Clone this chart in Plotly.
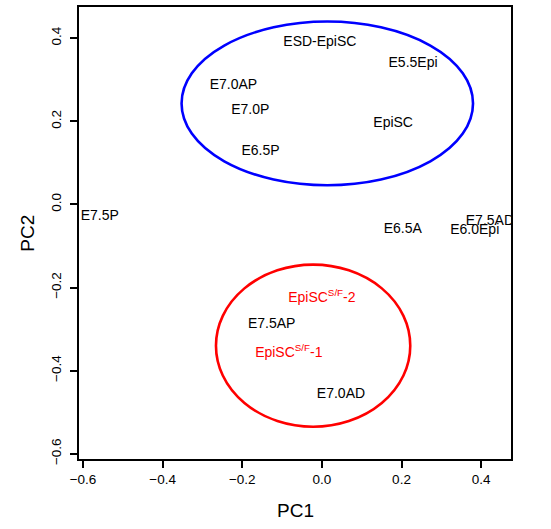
import plotly.graph_objects as go

# Sample labels and PCA coordinates
labels = ["ESD-EpiSC", "E5.5Epi", "E7.0AP", "E7.0P", "EpiSC", "E6.5P",
          "E7.5P", "E6.5A", "E6.0Epi", "E7.5AD",
          "EpiSC<sup>S/F</sup>-2", "E7.5AP", "EpiSC<sup>S/F</sup>-1", "E7.0AD"]
pc1 = [-0.005, 0.229, -0.222, -0.180, 0.179, -0.154,
       -0.558, 0.203, 0.384, 0.422,
       0.000, -0.126, -0.083, 0.048]
pc2 = [0.390, 0.338, 0.285, 0.227, 0.194, 0.127,
       -0.029, -0.061, -0.062, -0.041,
       -0.226, -0.288, -0.358, -0.457]
colors = ["black"] * 10 + ["#FF0000", "black", "#FF0000", "black"]

# Cluster ellipses: center x, center y, radius x, radius y
ell_cx = [0.0136, -0.022]
ell_cy = [0.243, -0.340]
ell_rx = [0.366, 0.244]
ell_ry = [0.197, 0.195]
ell_col = ["#0000FF", "#FF0000"]

xticks = [-0.6, -0.4, -0.2, 0.0, 0.2, 0.4]
yticks = [-0.6, -0.4, -0.2, 0.0, 0.2, 0.4]

FONT = "Liberation Sans, Arial, sans-serif"

fig = go.Figure()
fig.add_trace(go.Scatter(
    x=pc1, y=pc2, mode="text", text=labels,
    textposition="middle center",
    textfont=dict(family=FONT, size=14, color=colors),
    cliponaxis=True, hoverinfo="skip", showlegend=False))

shapes = []
for cx, cy, rx, ry, c in zip(ell_cx, ell_cy, ell_rx, ell_ry, ell_col):
    shapes.append(dict(type="circle", xref="x", yref="y",
                       x0=cx - rx, x1=cx + rx, y0=cy - ry, y1=cy + ry,
                       line=dict(color=c, width=2.6), layer="above"))

axis_common = dict(
    showgrid=False, zeroline=False, showline=True, linecolor="black",
    linewidth=1.8, mirror=True, ticks="outside", ticklen=7, tickwidth=1.5,
    tickcolor="black", tickformat=".1f",
    tickfont=dict(family=FONT, size=13.5, color="black"),
)

fig.update_layout(
    width=551, height=529,
    margin=dict(l=79, r=40, t=5, b=70),
    paper_bgcolor="white", plot_bgcolor="white",
    shapes=shapes,
    xaxis=dict(range=[-0.610, 0.475], tickvals=xticks, **axis_common),
    yaxis=dict(range=[-0.6127, 0.475], tickvals=yticks, tickangle=-90,
               ticklabelstandoff=4, **axis_common),
    annotations=[
        dict(text="PC1", xref="paper", yref="paper", x=0.5, y=-0.1137,
             xanchor="center", yanchor="middle", showarrow=False,
             font=dict(family=FONT, size=19, color="black")),
        dict(text="PC2", xref="paper", yref="paper", x=-0.1212, y=0.5,
             xanchor="center", yanchor="middle", showarrow=False, textangle=-90,
             font=dict(family=FONT, size=19, color="black")),
    ],
)

fig.write_html("out.html", config={"displayModeBar": False},
               post_script="document.body.style.margin='0';document.body.style.padding='0';")
